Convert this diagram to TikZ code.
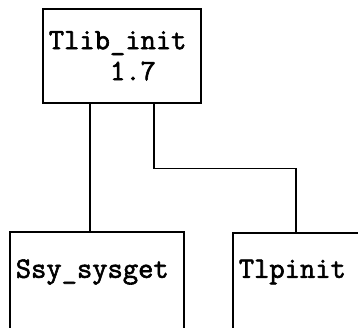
\documentclass[tikz,border=0pt]{standalone}
\usepackage{fontspec}
\setmonofont{Latin Modern Mono}[AutoFakeBold=2]
\tikzset{
  modbox/.style={draw, line width=1.6pt, rectangle, inner xsep=6pt, inner ysep=0pt,
    align=left, font=\ttfamily\bfseries\fontsize{29.7}{31}\selectfont},
  link/.style={line width=1.6pt}
}
\begin{document}
\begin{tikzpicture}[x=1pt,y=-1pt]
	\useasboundingbox (0,0) rectangle (358,327);
	\clip (0,0) rectangle (358,327);
	
	% calling module
	\node[modbox, anchor=north west, text width=146pt, minimum height=94pt] (tlib) at (42,8) {Tlib\_init\\\hphantom{Tlib}1.7};
	
	% called modules (cut at the lower edge)
	\node[modbox, anchor=north west, text width=162pt, text height=46pt, text depth=80pt] (ssy) at (9,231) {Ssy\_sysget};
	\node[modbox, anchor=north west, text width=128pt, text height=45pt, text depth=80pt] (tlp) at (232,232) {Tlpinit};
	
	\draw[link] ([xshift=-32pt]tlib.south) -- ([xshift=-32pt]tlib.south |- ssy.north);
	\draw[link] ([xshift=32pt]tlib.south) -- ++(0,65) -| ([xshift=-7pt]tlp.north);
	
\end{tikzpicture}
\end{document}
